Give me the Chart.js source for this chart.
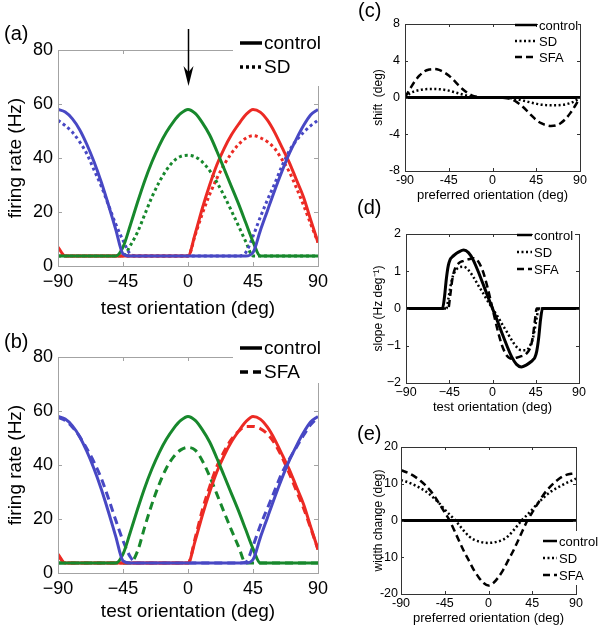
<!DOCTYPE html>
<html>
<head>
<meta charset="utf-8">
<script src="https://cdn.jsdelivr.net/npm/chart.js@4.4.1/dist/chart.umd.min.js"></script>
<style>
  body { margin: 0; background: #fff; }
  #wrap { position: relative; width: 604px; height: 635px; overflow: hidden; font-family: "Liberation Sans", Arial, sans-serif; }
  canvas { position: absolute; }
  .lbl { position: absolute; font-size: 20px; line-height: 20px; color: #000; }
</style>
</head>
<body>
<div id="wrap">
  <canvas id="pa" width="340" height="322" style="left:0;top:0"></canvas>
  <canvas id="pb" width="340" height="318" style="left:0;top:307px"></canvas>
  <canvas id="pc" width="232" height="204" style="left:370px;top:0"></canvas>
  <canvas id="pd" width="232" height="206" style="left:370px;top:210px"></canvas>
  <canvas id="pe" width="232" height="204" style="left:370px;top:423px"></canvas>
  <div class="lbl" style="left:4px;top:23px">(a)</div>
  <div class="lbl" style="left:4px;top:331px">(b)</div>
  <div class="lbl" style="left:358px;top:0px">(c)</div>
  <div class="lbl" style="left:357px;top:197px">(d)</div>
  <div class="lbl" style="left:357px;top:423px">(e)</div>
</div>
<script>
// orientation grid (deg)
const theta = [-90,-85,-80,-75,-70,-65,-60,-55,-50,-45,-40,-35,-30,-25,-20,-15,-10,-5,0,5,10,15,20,25,30,35,40,45,50,55,60,65,70,75,80,85,90];

// (a),(b) firing rates (Hz)
const ctrlBlue  = [58,57,54.5,50.5,45,38.5,31,22.5,13.5,4.5,3.7,3.7,3.7,3.7,3.7,3.7,3.7,3.7,3.7,3.7,3.7,3.7,3.7,3.7,3.7,3.7,3.7,5,13,20.5,28,35,41.5,47,52,56,58];
const ctrlGreen = [3.7,3.7,3.7,3.7,3.7,3.7,3.7,3.7,3.7,7,15,23.5,31.5,38.5,44.5,49.5,53.5,56.5,58,56.5,53,48.5,42.5,36,29.5,23,16,9,3.7,3.7,3.7,3.7,3.7,3.7,3.7,3.7,3.7];
const ctrlRed   = [7,3.7,3.7,3.7,3.7,3.7,3.7,3.7,3.7,3.7,3.7,3.7,3.7,3.7,3.7,3.7,3.7,3.7,3.7,12,21.5,30,37.5,43.5,48.5,52.5,56,58,57,54,49.5,44,38.5,32,25.5,17,8.7];
const sdBlue    = [54,52,49.5,46,41.5,35.5,29.5,22.5,15.5,9.5,4.5,3.7,3.7,3.7,3.7,3.7,3.7,3.7,3.7,3.7,3.7,3.7,3.7,3.7,3.7,3.7,5,11,18,24.5,30.5,37,42.5,46.5,49.5,52,54];
const sdGreen   = [3.7,3.7,3.7,3.7,3.7,3.7,3.7,3.7,3.7,3.7,7.5,12.5,19,25.5,31,35.5,38.8,40.6,41,40.4,38.5,35.3,31,26,20.5,14.8,9,3.7,3.7,3.7,3.7,3.7,3.7,3.7,3.7,3.7,3.7];
const sdRed     = [6.5,3.7,3.7,3.7,3.7,3.7,3.7,3.7,3.7,3.7,3.7,3.7,3.7,3.7,3.7,3.7,3.7,3.7,3.7,11.5,19.5,26.5,32.5,37.5,41.7,45,47.3,48.3,47.5,46,43.5,39.5,35,29,22.5,15.5,8.7];
const sfaBlue   = [57.6,56.5,54,50.5,46,41,35,27.5,19.5,12,6,3.7,3.7,3.7,3.7,3.7,3.7,3.7,3.7,3.7,3.7,3.7,3.7,3.7,3.7,3.7,4,10,17.5,24,30.5,37,42,46.5,51,55,57.6];
const sfaGreen  = [3.7,3.7,3.7,3.7,3.7,3.7,3.7,3.7,3.7,3.7,3.7,8,17,25.5,32.8,38.8,43,45.6,46.5,45.5,41.5,35.8,29.2,22.5,16,9.8,3.7,3.7,3.7,3.7,3.7,3.7,3.7,3.7,3.7,3.7,3.7];
const sfaRed    = [6.5,3.7,3.7,3.7,3.7,3.7,3.7,3.7,3.7,3.7,3.7,3.7,3.7,3.7,3.7,3.7,3.7,3.7,3.7,13,23.5,32,39.5,45,49.5,52.5,54.3,54.3,53.5,51.5,48,43,37,30.5,24,16.5,8.7];

// (c) shift (deg)
const shiftCtrl = [0,0,0,0,0,0,0,0,0,0,0,0,0,0,0,0,0,0,0,0,0,0,0,0,0,0,0,0,0,0,0,0,0,0,0,0,0];
const shiftSD   = [0,0.45,0.68,0.82,0.9,0.93,0.93,0.9,0.85,0.75,0.6,0.45,0.3,0.16,0.08,0.03,0.01,0,0,0,-0.01,-0.03,-0.08,-0.16,-0.3,-0.43,-0.56,-0.68,-0.78,-0.83,-0.85,-0.85,-0.82,-0.75,-0.6,-0.38,0];
const shiftSFA  = [0,0.9,1.75,2.4,2.85,3.05,3.1,3,2.75,2.4,1.9,1.35,0.85,0.45,0.18,0.06,0.02,0.01,0,-0.01,-0.02,-0.08,-0.22,-0.5,-0.9,-1.4,-1.95,-2.45,-2.8,-3,-3.1,-3.05,-2.8,-2.35,-1.7,-0.9,0];

// (d) slope (Hz/deg)
const thetaD    = [-90,-80,-70,-60,-55,-52,-50,-48,-46,-44,-42,-40,-35,-30,-25,-20,-15,-10,-5,0,5,10,15,20,25,30,35,40,42,44,46,48,50,52,55,60,70,80,90];
const slopeCtrl = [0,0,0,0,0,0,0.3,0.8,1.15,1.32,1.38,1.43,1.52,1.57,1.5,1.3,1,0.67,0.33,0,-0.33,-0.67,-1,-1.3,-1.5,-1.57,-1.52,-1.43,-1.38,-1.32,-1.15,-0.8,-0.3,0,0,0,0,0,0];
const slopeSD   = [0,0,0,0,0,0,0,0,0.25,0.55,0.8,0.95,1.1,1.12,1.03,0.85,0.63,0.42,0.2,0,-0.2,-0.42,-0.63,-0.85,-1.03,-1.12,-1.12,-0.95,-0.8,-0.55,-0.25,0,0,0,0,0,0,0,0];
const slopeSFA  = [0,0,0,0,0,0,0,0,0,0.35,0.75,1,1.22,1.28,1.32,1.35,1.27,1,0.55,0,-0.55,-1,-1.27,-1.35,-1.32,-1.28,-1.22,-1,-0.75,-0.35,0,0,0,0,0,0,0,0,0];

// (e) width change (deg)
const widthCtrl = [0,0,0,0,0,0,0,0,0,0,0,0,0,0,0,0,0,0,0,0,0,0,0,0,0,0,0,0,0,0,0,0,0,0,0,0,0];
const widthSD   = [11,10.6,10.1,9.5,8.8,8,7,5.8,4.5,3,1.6,0.3,-1.3,-2.9,-4.3,-5.2,-5.7,-6,-6.1,-6,-5.7,-5.2,-4.3,-2.9,-1.3,0.3,1.6,3,4.5,5.8,7,8,8.8,9.5,10.2,10.8,11.4];
const widthSFA  = [13.7,13.2,12.6,11.8,10.8,9.6,8.2,6.4,4.3,2.2,0,-2.8,-5.7,-8.5,-11,-13.5,-15.5,-17,-17.7,-17,-15.5,-13.5,-11,-8.5,-5.7,-2.8,0,2.2,4.3,6.4,8.2,9.6,10.8,11.8,12.4,12.7,12.8];

const xTicks = [-90, -45, 0, 45, 90];

const FONT = '"Liberation Sans", Arial, sans-serif';
const BLUE = '#4848c4', GREEN = '#17882c', RED = '#ec2a24';
Chart.defaults.font.family = FONT;
Chart.defaults.color = '#000';

const pts = (xs, ys) => xs.map((x, i) => ({x: x, y: ys[i]}));
const minus = v => String(v).replace('-', '\u2212');

function line(xs, ys, color, dash, width) {
  return {
    data: pts(xs, ys), borderColor: color, borderWidth: width, borderDash: dash,
    pointRadius: 0, fill: false, cubicInterpolationMode: 'monotone', borderCapStyle: 'butt'
  };
}

// box, inward ticks, legend and arrow
const framePlugin = {
  id: 'frame',
  afterDatasetsDraw(chart, args, o) {
    const ctx = chart.ctx, a = chart.chartArea, sx = chart.scales.x, sy = chart.scales.y;
    ctx.save();
    ctx.setLineDash([]);
    ctx.strokeStyle = o.color;
    ctx.lineWidth = 1;
    ctx.strokeRect(Math.round(a.left) + 0.5, Math.round(a.top) + 0.5, Math.round(a.right - a.left), Math.round(a.bottom - a.top));
    ctx.beginPath();
    sx.ticks.forEach(t => {
      const p = Math.round(sx.getPixelForValue(t.value)) + 0.5;
      ctx.moveTo(p, a.bottom); ctx.lineTo(p, a.bottom - o.tick);
      ctx.moveTo(p, a.top); ctx.lineTo(p, a.top + o.tick);
    });
    sy.ticks.forEach(t => {
      const p = Math.round(sy.getPixelForValue(t.value)) + 0.5;
      ctx.moveTo(a.left, p); ctx.lineTo(a.left + o.tick, p);
      ctx.moveTo(a.right, p); ctx.lineTo(a.right - o.tick, p);
    });
    ctx.stroke();

    const L = o.legend;
    if (L) {
      if (L.bg) { ctx.fillStyle = '#fff'; ctx.fillRect(L.bg[0], L.bg[1], L.bg[2], L.bg[3]); }
      ctx.font = L.font;
      ctx.textBaseline = 'middle';
      ctx.textAlign = 'left';
      L.items.forEach(it => {
        ctx.setLineDash(it.dash);
        ctx.lineWidth = L.lw;
        ctx.strokeStyle = '#000';
        ctx.beginPath(); ctx.moveTo(L.x1, it.y); ctx.lineTo(L.x2, it.y); ctx.stroke();
        if (it.bg) { ctx.fillStyle = '#fff'; ctx.fillRect(it.bg[0], it.bg[1], it.bg[2], it.bg[3]); }
        ctx.fillStyle = '#000';
        ctx.fillText(it.text, L.tx, it.y + 1);
      });
    }

    if (o.arrow) {
      const x = Math.round(sx.getPixelForValue(0)) + 0.5;
      ctx.setLineDash([]);
      ctx.strokeStyle = '#000';
      ctx.fillStyle = '#000';
      ctx.lineWidth = 1.5;
      ctx.beginPath(); ctx.moveTo(x, 29); ctx.lineTo(x, 76); ctx.stroke();
      ctx.beginPath();
      ctx.moveTo(x, 86); ctx.lineTo(x - 5, 66); ctx.lineTo(x, 72); ctx.lineTo(x + 5, 66); ctx.closePath();
      ctx.fill();
    }
    ctx.restore();
  }
};

function makePanel(id, p) {
  return new Chart(document.getElementById(id), {
    type: 'line',
    data: { datasets: p.datasets },
    plugins: [framePlugin],
    options: {
      responsive: false, animation: false, devicePixelRatio: 1, events: [],
      layout: { padding: p.pad },
      plugins: { legend: { display: false }, tooltip: { enabled: false }, frame: p.frame },
      scales: {
        x: {
          type: 'linear', min: -90, max: 90,
          afterBuildTicks: s => { s.ticks = xTicks.map(v => ({value: v})); },
          afterFit: s => { s.height = p.xh; },
          grid: { display: false, drawTicks: false },
          border: { display: false },
          ticks: { font: { size: p.tickSize }, padding: p.xTickPad, maxRotation: 0, callback: p.minus ? minus : (v => v) },
          title: { display: true, text: p.xtitle, font: { size: p.titleSize }, padding: { top: 0, bottom: p.xTitlePad } }
        },
        y: {
          min: p.ymin, max: p.ymax,
          afterBuildTicks: s => { s.ticks = p.yticks.map(v => ({value: v})); },
          afterFit: s => { s.width = p.yw; },
          grid: { display: false, drawTicks: false },
          border: { display: false },
          ticks: { font: { size: p.tickSize }, padding: p.yTickPad, callback: p.yminus ? minus : (v => v) },
          title: { display: true, text: p.ytitle, font: { size: p.ytitleSize }, padding: { top: p.yTitlePad, bottom: 0 } }
        }
      }
    }
  });
}

const DOT = [3, 3], DASH = [8, 5], SOLID = [];
const leftCommon = {
  pad: { top: 50, right: 22, left: 0, bottom: 0 }, yw: 58,
  tickSize: 18, titleSize: 19, ytitleSize: 19, xTickPad: 5, yTickPad: 5, xTitlePad: 2, yTitlePad: 4,
  ymin: 0, ymax: 80, yticks: [0, 20, 40, 60, 80], minus: true, yminus: true,
  xtitle: 'test orientation (deg)', ytitle: 'firing rate (Hz)'
};

makePanel('pa', Object.assign({}, leftCommon, {
  xh: 56,
  datasets: [
    line(theta, ctrlBlue, BLUE, SOLID, 3), line(theta, ctrlGreen, GREEN, SOLID, 3), line(theta, ctrlRed, RED, SOLID, 3),
    line(theta, sdBlue, BLUE, DOT, 3), line(theta, sdGreen, GREEN, DOT, 3), line(theta, sdRed, RED, DOT, 3)
  ],
  frame: {
    color: '#a3a3a3', tick: 4, arrow: true,
    legend: { bg: [233, 28, 104, 58], font: '19px ' + FONT, lw: 3.5, x1: 240, x2: 262, tx: 264,
      items: [ { text: 'control', y: 43, dash: SOLID }, { text: 'SD', y: 67, dash: DOT } ] }
  }
}));

makePanel('pb', Object.assign({}, leftCommon, {
  xh: 52,
  datasets: [
    line(theta, ctrlBlue, BLUE, SOLID, 3), line(theta, ctrlGreen, GREEN, SOLID, 3), line(theta, ctrlRed, RED, SOLID, 3),
    line(theta, sfaBlue, BLUE, DASH, 3), line(theta, sfaGreen, GREEN, DASH, 3), line(theta, sfaRed, RED, DASH, 3)
  ],
  frame: {
    color: '#a3a3a3', tick: 4,
    legend: { bg: [233, 26, 104, 50], font: '19px ' + FONT, lw: 3.5, x1: 240, x2: 262, tx: 264,
      items: [ { text: 'control', y: 41, dash: SOLID }, { text: 'SFA', y: 65, dash: DASH } ] }
  }
}));

const rDOT = [2, 2.5], rDASH = [7, 4];
const rightCommon = {
  tickSize: 12.5, titleSize: 13, ytitleSize: 12, xTickPad: 2, xTitlePad: 1, yTitlePad: 1, xh: 33
};

makePanel('pc', Object.assign({}, rightCommon, {
  pad: { top: 24, right: 22, left: 0, bottom: 0 }, yw: 35, yTickPad: 5,
  ymin: -8, ymax: 8, yticks: [-8, -4, 0, 4, 8], minus: false, yminus: false,
  xtitle: 'preferred orientation (deg)', ytitle: 'shift  (deg)',
  datasets: [
    line(theta, shiftCtrl, '#000', SOLID, 3), line(theta, shiftSD, '#000', rDOT, 2.5), line(theta, shiftSFA, '#000', rDASH, 2.5)
  ],
  frame: {
    color: '#333', tick: 3,
    legend: { font: '13px ' + FONT, lw: 2.5, x1: 145, x2: 167, tx: 169,
      items: [ { text: 'control', y: 25, dash: SOLID, bg: [168, 18, 40, 14] }, { text: 'SD', y: 41, dash: rDOT }, { text: 'SFA', y: 57, dash: rDASH } ] }
  }
}));

makePanel('pd', Object.assign({}, rightCommon, {
  pad: { top: 24, right: 23, left: 0, bottom: 0 }, yw: 36, yTickPad: 5,
  ymin: -2, ymax: 2, yticks: [-2, -1, 0, 1, 2], minus: true, yminus: true,
  xtitle: 'test orientation (deg)', ytitle: 'slope (Hz deg\u207B\u00B9)',
  datasets: [
    line(thetaD, slopeCtrl, '#000', SOLID, 3), line(thetaD, slopeSD, '#000', rDOT, 2.5), line(thetaD, slopeSFA, '#000', rDASH, 2.5)
  ],
  frame: {
    color: '#333', tick: 3,
    legend: { font: '13px ' + FONT, lw: 2.5, x1: 147, x2: 162, tx: 164,
      items: [ { text: 'control', y: 25, dash: SOLID, bg: [163, 18, 42, 14] }, { text: 'SD', y: 42, dash: rDOT }, { text: 'SFA', y: 59, dash: rDASH } ] }
  }
}));

makePanel('pe', Object.assign({}, rightCommon, {
  pad: { top: 24, right: 26, left: 0, bottom: 0 }, yw: 31, yTickPad: 3,
  ymin: -20, ymax: 20, yticks: [-20, -10, 0, 10, 20], minus: false, yminus: false,
  xtitle: 'preferred orientation (deg)', ytitle: 'width change (deg)',
  datasets: [
    line(theta, widthCtrl, '#000', SOLID, 3), line(theta, widthSD, '#000', rDOT, 2.5), line(theta, widthSFA, '#000', rDASH, 2.5)
  ],
  frame: {
    color: '#333', tick: 3,
    legend: { bg: [170, 108, 62, 54], font: '13px ' + FONT, lw: 2.5, x1: 173, x2: 187, tx: 189,
      items: [ { text: 'control', y: 118, dash: SOLID }, { text: 'SD', y: 135, dash: rDOT }, { text: 'SFA', y: 152, dash: rDASH } ] }
  }
}));
</script>
</body>
</html>
